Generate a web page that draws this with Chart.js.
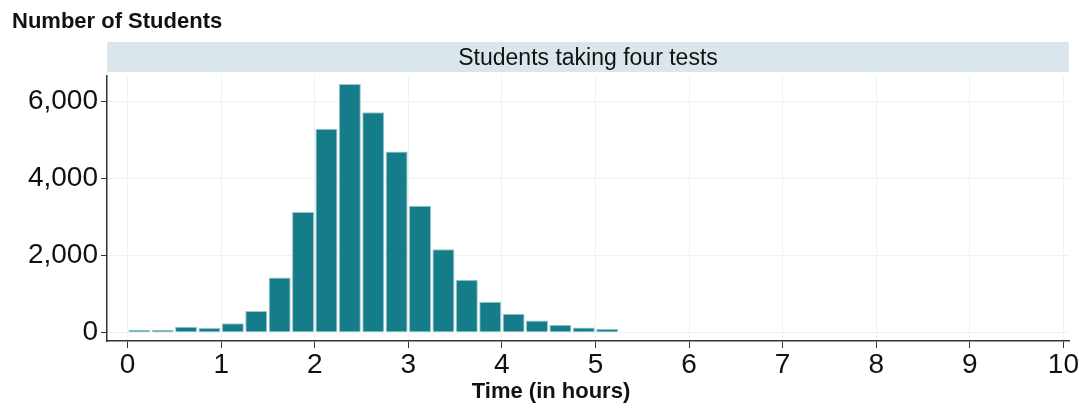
<!DOCTYPE html>
<html>
<head>
<meta charset="utf-8">
<script src="https://cdn.jsdelivr.net/npm/chart.js@4.4.1/dist/chart.umd.min.js"></script>
<style>
  html, body { margin: 0; padding: 0; background: #fff; }
  #wrap { width: 1079px; height: 413px; position: relative; }
</style>
</head>
<body>
<div id="wrap"><canvas id="hist"></canvas></div>
<script>
// histogram bins, 15 minutes wide (start of each bin, in hours)
const binStarts = [0, 0.25, 0.5, 0.75, 1, 1.25, 1.5, 1.75, 2, 2.25, 2.5,
                   2.75, 3, 3.25, 3.5, 3.75, 4, 4.25, 4.5, 4.75, 5];
const binWidth = 0.25;
const counts = [60, 60, 140, 110, 230, 550, 1420, 3120, 5280, 6440, 5710,
                4690, 3280, 2150, 1360, 790, 480, 300, 190, 120, 80];
const xTicks = [0, 1, 2, 3, 4, 5, 6, 7, 8, 9, 10];
const yTicks = [0, 2000, 4000, 6000];

const FONT = '"Liberation Sans Narrow", "Arial Narrow", "Liberation Sans", Arial, sans-serif';
const INK = '#111';

const points = binStarts.map((s, i) => ({ x: s + binWidth / 2, y: counts[i] }));

// y-axis title, facet strip and x-axis title
const decorPlugin = {
  id: 'decor',
  beforeDraw(chart) {
    const { ctx, chartArea: a } = chart;
    ctx.save();
    ctx.fillStyle = '#d9e6ec';
    ctx.fillRect(a.left, 42, a.right - a.left, 30);
    ctx.fillStyle = INK;
    ctx.textAlign = 'center';
    ctx.textBaseline = 'middle';
    ctx.font = `23px ${FONT}`;
    ctx.fillText('Students taking four tests', (a.left + a.right) / 2, 59);
    ctx.font = `bold 22px ${FONT}`;
    ctx.fillText('Time (in hours)', 551, 392);
    ctx.textAlign = 'left';
    ctx.fillText('Number of Students', 12, 22);
    ctx.restore();
  }
};

new Chart(document.getElementById('hist'), {
  type: 'bar',
  data: {
    datasets: [{
      data: points,
      backgroundColor: '#157d8a',
      borderColor: '#9fc5ca',
      borderWidth: 1,
      barPercentage: 0.94,
      categoryPercentage: 1
    }]
  },
  options: {
    responsive: true,
    maintainAspectRatio: false,
    animation: false,
    layout: { padding: { top: 76, right: 7, left: 0, bottom: 0 } },
    plugins: {
      legend: { display: false },
      tooltip: { enabled: false }
    },
    scales: {
      x: {
        type: 'linear',
        offset: false,
        min: -0.22,
        max: 10.06,
        afterBuildTicks: (s) => { s.ticks = xTicks.map(v => ({ value: v })); },
        afterFit: (s) => { s.height = 72; },
        grid: { offset: false, color: '#edf3f4', tickColor: '#333', tickLength: 7, lineWidth: 1 },
        border: { color: '#333', width: 1.5 },
        ticks: { color: INK, font: { family: FONT, size: 28 }, padding: 0 }
      },
      y: {
        min: -230,
        max: 6650,
        afterBuildTicks: (s) => { s.ticks = yTicks.map(v => ({ value: v })); },
        afterFit: (s) => { s.width = 107; },
        grid: { color: '#edf3f4', tickColor: '#333', tickLength: 6, lineWidth: 1 },
        border: { color: '#333', width: 1.5 },
        ticks: {
          color: INK,
          font: { family: FONT, size: 28 },
          padding: 3,
          callback: (v) => v.toLocaleString('en-US')
        }
      }
    }
  },
  plugins: [decorPlugin]
});
</script>
</body>
</html>
